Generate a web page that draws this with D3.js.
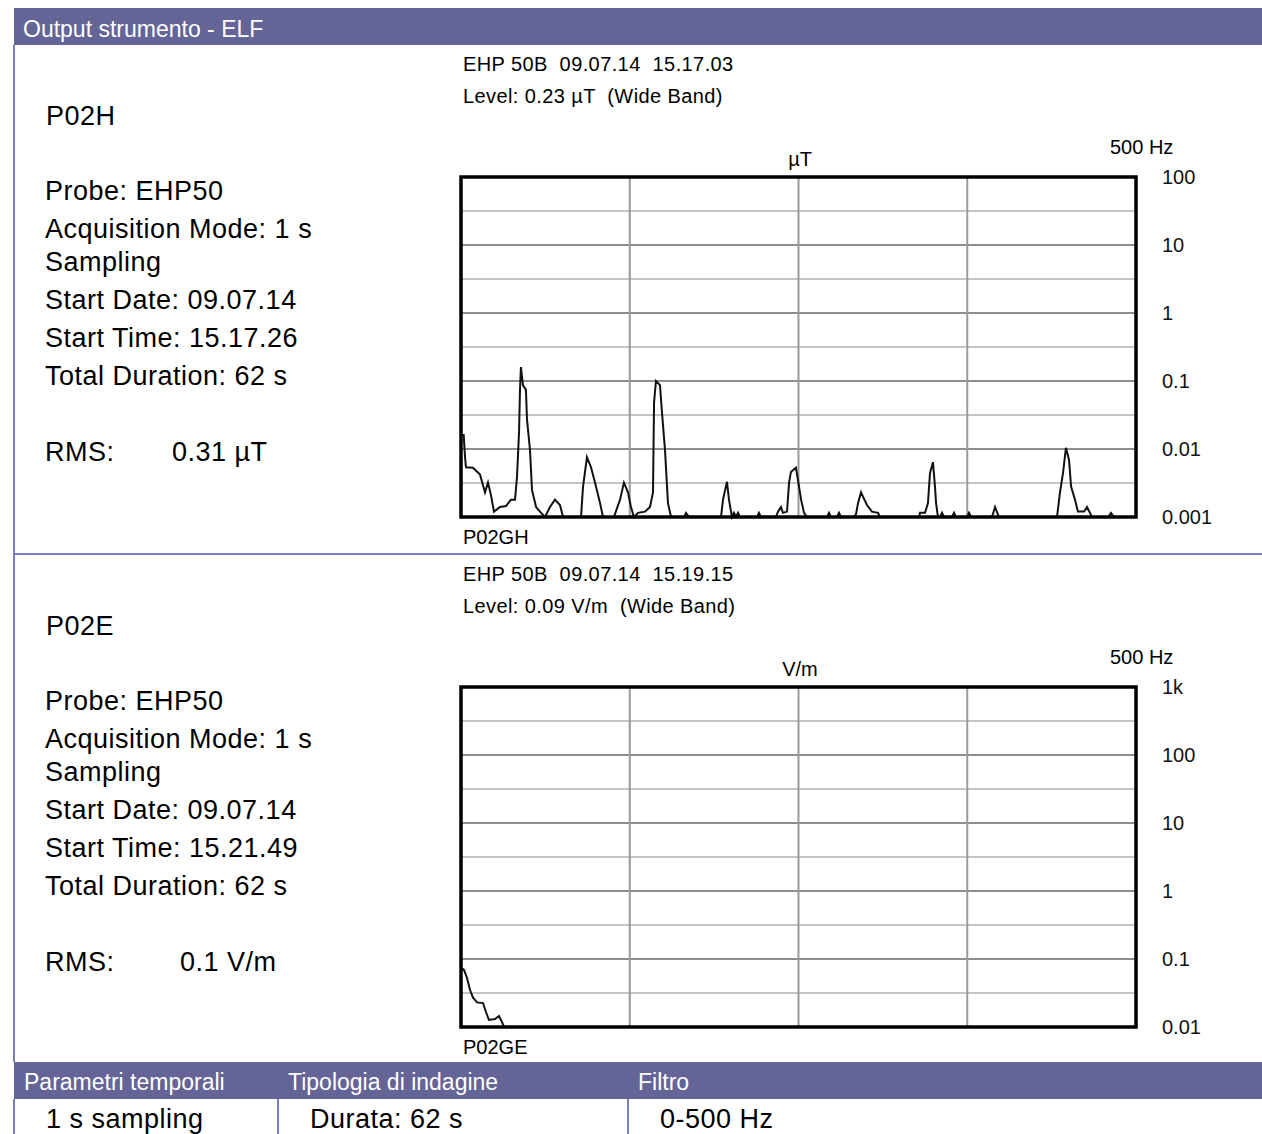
<!DOCTYPE html>
<html lang="it">
<head>
<meta charset="utf-8">
<script src="https://d3js.org/d3.v7.min.js"></script>
<style>
  body { margin: 0; background: #fff; }
  text { font-family: "Liberation Sans", Arial, sans-serif; white-space: pre; }
  .info { font-size: 27px; letter-spacing: 0.5px; }
  .small { font-family: "Liberation Sans Narrow", "Liberation Sans", Arial, sans-serif; font-size: 20px; }
  .head { letter-spacing: 0.4px; }
</style>
</head>
<body>
<div id="my_dataviz"></div>

<script>
// spectrum P02H (Hz, µT)
var hSpectrum = [
  [0, 0.016], [2, 0.016], [3, 0.0075], [3.7, 0.0054], [8.9, 0.0053], [14.1, 0.0042],
  [17.8, 0.0023], [20, 0.0032], [22.2, 0.0021], [24.4, 0.0012], [28.9, 0.0014],
  [33.3, 0.00145], [37, 0.0018], [40, 0.0018], [41.5, 0.0039], [43, 0.018],
  [43.7, 0.074], [44.4, 0.16], [45.9, 0.087], [48.1, 0.074], [48.9, 0.027],
  [51.1, 0.0097], [52.6, 0.0025], [55.6, 0.0014], [59.3, 0.00115], [62.2, 0.001],
  [65.9, 0.0014], [69.6, 0.0018], [73.3, 0.0015], [75.6, 0.001], [88.9, 0.001],
  [90.4, 0.0028], [93.3, 0.0076], [96.3, 0.0054], [99.3, 0.0032], [103, 0.0016],
  [105.2, 0.001], [113.3, 0.001], [117.8, 0.0018], [120.7, 0.0032], [123.7, 0.0023],
  [125.9, 0.0014], [128.1, 0.001], [131.1, 0.00115], [136.3, 0.0012], [140, 0.0014],
  [142.2, 0.0023], [143, 0.048], [144.4, 0.10], [147.4, 0.087], [148.9, 0.034],
  [151.1, 0.0097], [153.3, 0.0016], [155.6, 0.001], [165.2, 0.001], [166.7, 0.00115],
  [168.9, 0.001], [192.6, 0.001], [194.1, 0.0018], [197, 0.0033], [198.5, 0.0018],
  [200.7, 0.001], [202.2, 0.00115], [203.7, 0.001], [205.2, 0.00115], [206.7, 0.001],
  [219.3, 0.001], [220.7, 0.00115], [222.2, 0.001], [233.3, 0.001], [234.8, 0.0012],
  [237, 0.0014], [238.5, 0.00115], [241.5, 0.0012], [243, 0.0032], [244.4, 0.0046],
  [248.1, 0.0053], [249.6, 0.0035], [251.9, 0.0018], [254.1, 0.00115], [256.3, 0.001],
  [271.1, 0.001], [272.6, 0.00115], [274.1, 0.001], [278.5, 0.001], [280, 0.00115],
  [281.5, 0.001], [291.1, 0.001], [292.6, 0.0011], [294.1, 0.0016], [296.3, 0.0023],
  [300.7, 0.0015], [304.4, 0.0012], [308.9, 0.00115], [310.4, 0.001], [339.3, 0.001],
  [340, 0.00115], [343.7, 0.00115], [345.9, 0.0016], [347.4, 0.0044], [349.6, 0.0064],
  [351.1, 0.0028], [351.9, 0.0016], [353.3, 0.001], [354.8, 0.001], [356.3, 0.00115],
  [357.8, 0.001], [363.7, 0.001], [365.2, 0.00115], [366.7, 0.001], [374.8, 0.001],
  [376.3, 0.00115], [377.8, 0.001], [393.3, 0.001], [395.6, 0.0014], [398.5, 0.001],
  [441.5, 0.001], [443.7, 0.0023], [445.9, 0.0044], [448.1, 0.0104], [450.4, 0.0069],
  [451.9, 0.0028], [454.8, 0.0018], [457, 0.0012], [461.5, 0.0012], [463.7, 0.0014],
  [465.9, 0.00115], [467.4, 0.001], [479.3, 0.001], [481.5, 0.00115], [483.7, 0.001],
  [500, 0.001]
];

// spectrum P02E (Hz, V/m)
var eSpectrum = [
  [0, 0.075], [2.2, 0.069], [4.4, 0.053], [6.7, 0.035], [8.9, 0.027], [11.9, 0.023],
  [16.3, 0.0225], [18.5, 0.0166], [20.7, 0.0127], [25.2, 0.0131], [28.1, 0.0145],
  [30.4, 0.0118], [31.9, 0.01], [500, 0.01]
];

var hTicks = [0.001, 0.01, 0.1, 1, 10, 100];
var hTickLabels = ["0.001", "0.01", "0.1", "1", "10", "100"];
var eTicks = [0.01, 0.1, 1, 10, 100, 1000];
var eTickLabels = ["0.01", "0.1", "1", "10", "100", "1k"];
var freqGrid = [125, 250, 375];

var hInfo = ["Probe: EHP50", "Acquisition Mode: 1 s", "Sampling", "Start Date: 09.07.14",
             "Start Time: 15.17.26", "Total Duration: 62 s"];
var eInfo = ["Probe: EHP50", "Acquisition Mode: 1 s", "Sampling", "Start Date: 09.07.14",
             "Start Time: 15.21.49", "Total Duration: 62 s"];
var footHeads = ["Parametri temporali", "Tipologia di indagine", "Filtro"];
var footValues = ["1 s sampling", "Durata: 62 s", "0-500 Hz"];

var band = "#646496";
var rule = "#7c7cc0";

var svg = d3.select("#my_dataviz")
  .append("svg")
    .attr("width", 1262)
    .attr("height", 1134);

// title band
svg.append("rect").attr("x", 14).attr("y", 8).attr("width", 1248).attr("height", 37).attr("fill", band);
svg.append("text").attr("x", 23).attr("y", 37).attr("fill", "#fff")
  .style("font-size", "23px").text("Output strumento - ELF");

// frame lines
svg.append("line").attr("x1", 14).attr("x2", 14).attr("y1", 45).attr("y2", 1062)
  .attr("stroke", rule).attr("stroke-width", 2);
svg.append("line").attr("x1", 14).attr("x2", 1262).attr("y1", 554).attr("y2", 554)
  .attr("stroke", rule).attr("stroke-width", 2);

function panel(top, o) {
  // left info block
  svg.append("text").attr("class", "info").attr("x", 46).attr("y", top + 125).text(o.name);
  var lineY = [200, 238, 271, 309, 347, 385];
  svg.selectAll(null).data(o.info).enter().append("text")
    .attr("class", "info")
    .attr("x", 45).attr("y", function(d, i) { return top + lineY[i]; })
    .text(function(d) { return d; });
  svg.append("text").attr("class", "info").attr("x", 45).attr("y", top + 461).text("RMS:");
  svg.append("text").attr("class", "info").attr("x", o.rmsX).attr("y", top + 461).text(o.rms);

  // header texts
  svg.append("text").attr("class", "small head").attr("x", 463).attr("y", top + 71).text(o.head1);
  svg.append("text").attr("class", "small head").attr("x", 463).attr("y", top + 103).text(o.head2);
  svg.append("text").attr("class", "small").attr("x", 1110).attr("y", top + 154).text("500 Hz");
  svg.append("text").attr("class", "small").attr("x", 800).attr("y", top + 166)
    .attr("text-anchor", "middle").text(o.unit);
  svg.append("text").attr("class", "small").attr("x", 463).attr("y", top + 544).text(o.foot);

  var x = d3.scaleLinear().domain([0, 500]).range([461, 1136]);
  var y = d3.scaleLog().domain(o.domain).range([top + 517, top + 177]).clamp(true);

  // half-decade lines (lighter)
  var mids = o.ticks.slice(0, -1).map(function(t) { return t * Math.sqrt(10); });
  svg.selectAll(null).data(mids).enter().append("line")
    .attr("x1", 461).attr("x2", 1136)
    .attr("y1", function(d) { return y(d); }).attr("y2", function(d) { return y(d); })
    .attr("stroke", "#c4c4c4").attr("stroke-width", 2);
  svg.selectAll(null).data(o.ticks.slice(1, -1)).enter().append("line")
    .attr("x1", 461).attr("x2", 1136)
    .attr("y1", function(d) { return y(d); }).attr("y2", function(d) { return y(d); })
    .attr("stroke", "#8e8e8e").attr("stroke-width", 2);
  svg.selectAll(null).data(freqGrid).enter().append("line")
    .attr("x1", function(d) { return x(d); }).attr("x2", function(d) { return x(d); })
    .attr("y1", top + 177).attr("y2", top + 517)
    .attr("stroke", "#9a9a9a").attr("stroke-width", 2);

  // trace
  svg.append("path").datum(o.data)
    .attr("fill", "none").attr("stroke", "#111").attr("stroke-width", 2)
    .attr("d", d3.line().x(function(d) { return x(d[0]); }).y(function(d) { return y(d[1]); }));

  // frame
  svg.append("rect").attr("x", 461).attr("y", top + 177).attr("width", 675).attr("height", 340)
    .attr("fill", "none").attr("stroke", "#000").attr("stroke-width", 3.5);

  // right log axis
  var ax = svg.append("g").attr("transform", "translate(1160,0)")
    .call(d3.axisRight(y).tickValues(o.ticks).tickSize(0).tickPadding(2)
      .tickFormat(function(d, i) { return o.labels[i]; }));
  ax.select(".domain").remove();
  ax.selectAll("text").attr("class", "small").attr("fill", "#111");
}

panel(0, {
  name: "P02H", info: hInfo, rms: "0.31 µT", rmsX: 172,
  head1: "EHP 50B  09.07.14  15.17.03", head2: "Level: 0.23 µT  (Wide Band)",
  unit: "µT", foot: "P02GH", domain: [0.001, 100], ticks: hTicks, labels: hTickLabels,
  data: hSpectrum
});
panel(510, {
  name: "P02E", info: eInfo, rms: "0.1 V/m", rmsX: 180,
  head1: "EHP 50B  09.07.14  15.19.15", head2: "Level: 0.09 V/m  (Wide Band)",
  unit: "V/m", foot: "P02GE", domain: [0.01, 1000], ticks: eTicks, labels: eTickLabels,
  data: eSpectrum
});

// footer table
var colX = [14, 278, 628];
svg.append("rect").attr("x", 14).attr("y", 1062).attr("width", 1248).attr("height", 37).attr("fill", band);
svg.selectAll(null).data(footHeads).enter().append("text")
  .attr("x", function(d, i) { return colX[i] + 10; }).attr("y", 1090)
  .attr("fill", "#fff").style("font-size", "23px").text(function(d) { return d; });
svg.selectAll(null).data(footValues).enter().append("text")
  .attr("class", "info")
  .attr("x", function(d, i) { return colX[i] + 32; }).attr("y", 1128)
  .text(function(d) { return d; });
svg.selectAll(null).data(colX).enter().append("line")
  .attr("x1", function(d) { return d; }).attr("x2", function(d) { return d; })
  .attr("y1", 1099).attr("y2", 1134).attr("stroke", rule).attr("stroke-width", 2);
</script>
</body>
</html>
